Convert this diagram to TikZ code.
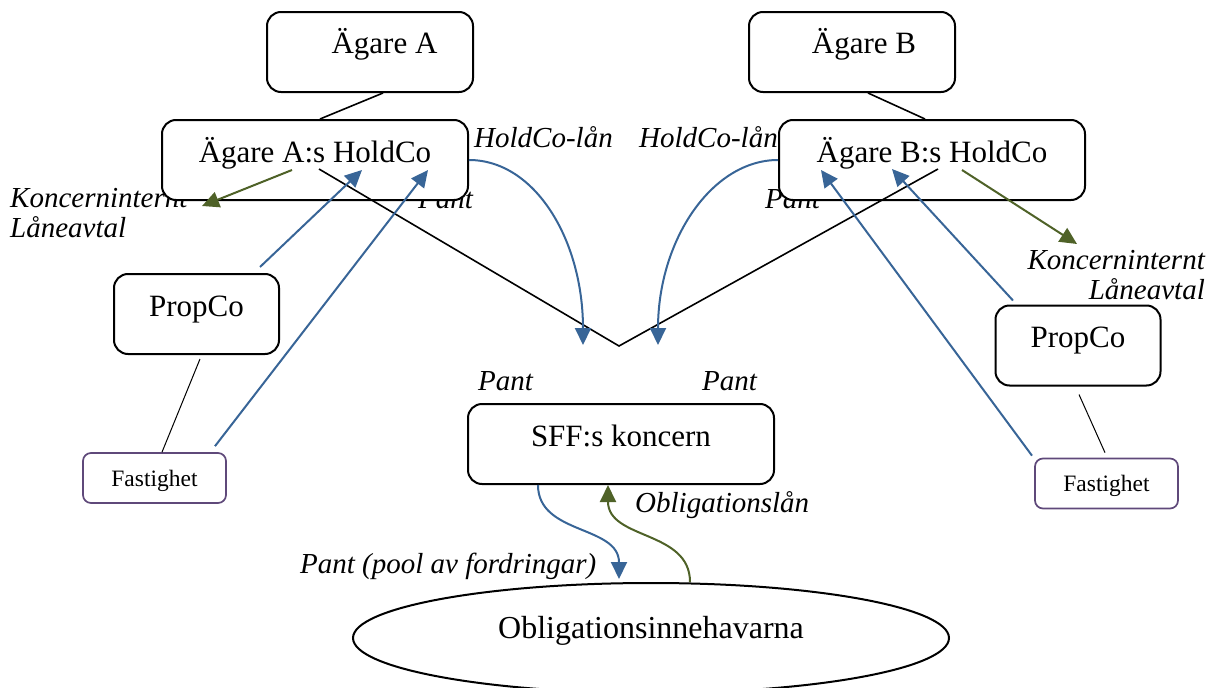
\documentclass[tikz,border=0pt]{standalone}
\usepackage{fontspec}
\setmainfont{Liberation Serif}
\usetikzlibrary{arrows.meta,shapes.geometric}
\definecolor{pantblue}{HTML}{386597}
\definecolor{loangreen}{HTML}{4F6228}
\definecolor{propviolet}{HTML}{5F497A}
\begin{document}
\begin{tikzpicture}[x=1pt,y=-1pt,
	box/.style={draw,line width=2pt,rounded corners=14pt,fill=white,minimum width=306pt,minimum height=80pt,font=\fontsize{31}{36}\selectfont,text height=20pt,text depth=16pt},
	smallbox/.style={box,minimum width=206pt,text depth=18pt},
	propbox/.style={box,minimum width=165pt},
	fastbox/.style={draw=propviolet,line width=1.7pt,rounded corners=8pt,fill=white,minimum width=143pt,minimum height=50pt,font=\fontsize{23.5}{26}\selectfont,text height=17pt,text depth=1pt},
	lbl/.style={inner sep=0pt,font=\fontsize{29}{30}\itshape},
	tie/.style={line width=1pt},
	bluearr/.style={draw=pantblue,line width=2pt,-{Triangle[length=17pt,width=16pt]}},
	greenarr/.style={draw=loangreen,line width=2pt,-{Triangle[length=17pt,width=16pt]}}]
	\useasboundingbox (0,0) rectangle (1211,688);
	% labels first, the boxes cover parts of them
	\node[lbl,anchor=base west] (lanA) at (474,147) {HoldCo-lån};
	\node[lbl,anchor=base west] (lanB) at (639,147) {HoldCo-lån};
	\node[lbl,anchor=base east] (pantA) at (473,208) {Pant};
	\node[lbl,anchor=base west] (pantB) at (765,208) {Pant};
	\node[lbl,anchor=base west] (pantC) at (478,390) {Pant};
	\node[lbl,anchor=base west] (pantD) at (702,390) {Pant};
	\node[lbl,anchor=base west,align=left] (avtalA) at (10,237) {Koncerninternt\\Låneavtal};
	\node[lbl,anchor=base east,align=right] (avtalB) at (1205,299) {Koncerninternt\\Låneavtal};
	\node[lbl,anchor=base west] (oblan) at (635,512) {Obligationslån};
	\node[lbl,anchor=base west] (pool) at (300,573) {Pant (pool av fordringar)};
	% boxes
	\node[smallbox] (ownA) at (370,52) {\hspace*{29pt}Ägare A};
	\node[smallbox] (ownB) at (852,52) {\hspace*{24pt}Ägare B};
	\node[box] (holdA) at (315,160) {Ägare A:s HoldCo};
	\node[box] (holdB) at (932,160) {Ägare B:s HoldCo};
	\node[propbox] (propA) at (196.5,314) {PropCo};
	\node[propbox] (propB) at (1078,345.5) {PropCo};
	\node[fastbox] (fastA) at (154.5,478) {Fastighet};
	\node[fastbox] (fastB) at (1106.5,483.5) {Fastighet};
	\node[box] (sff) at (621,444) {SFF:s koncern};
	\node[draw,ellipse,line width=2pt,inner sep=0pt,minimum width=596pt,minimum height=110pt,font=\fontsize{32}{36}\selectfont,text height=20pt,text depth=20pt] (bond) at (651,638) {Obligationsinnehavarna};
	\coordinate (vtx) at (619,346);
	\coordinate (inA) at (583,345);
	\coordinate (inB) at (658,345);
	\coordinate (loanA) at (202,206);
	\coordinate (loanB) at (1077,244);
	% ownership
	\draw[line width=1.6pt] ([xshift=13pt]ownA.south)--([xshift=5pt]holdA.north);
	\draw[line width=1.6pt] ([xshift=16pt]ownB.south)--([xshift=-7pt]holdB.north);
	\draw[line width=1.6pt] ([xshift=4pt,yshift=-9pt]holdA.center)--(vtx)--([xshift=6pt,yshift=-9pt]holdB.center);
	\draw[tie] ([xshift=3.5pt,yshift=-4pt]propA.south)--([xshift=7.5pt]fastA.north);
	\draw[tie] ([xshift=1pt,yshift=-8pt]propB.south)--([xshift=-1.5pt,yshift=5pt]fastB.north);
	% pledges
	\draw[bluearr] ([xshift=63.5pt,yshift=6pt]propA.north)--([xshift=47pt,yshift=-10pt]holdA.center);
	\draw[bluearr] ([xshift=60.5pt,yshift=6pt]fastA.north)--([xshift=113pt,yshift=-10pt]holdA.center);
	\draw[bluearr] ([xshift=-65pt,yshift=4pt]propB.north)--([xshift=-40pt,yshift=-9pt]holdB.center);
	\draw[bluearr] ([xshift=-74.5pt,yshift=2pt]fastB.north)--([xshift=-111pt,yshift=-10pt]holdB.center);
	\draw[bluearr] (holdA.east) .. controls (535,160) and (583,240) .. (inA);
	\draw[bluearr] (holdB.west) .. controls (712,160) and (658,240) .. (inB);
	\draw[bluearr] ([xshift=-83pt]sff.south) .. controls (538,535) and (619,525) .. (619,579);
	% loans
	\draw[greenarr] ([xshift=-23pt,yshift=-10pt]holdA.center)--(loanA);
	\draw[greenarr] ([xshift=30pt,yshift=-10pt]holdB.center)--(loanB);
	\draw[greenarr] ([xshift=39pt]bond.north) .. controls (690,530) and (608,540) .. ([xshift=-13pt]sff.south);
\end{tikzpicture}
\end{document}
